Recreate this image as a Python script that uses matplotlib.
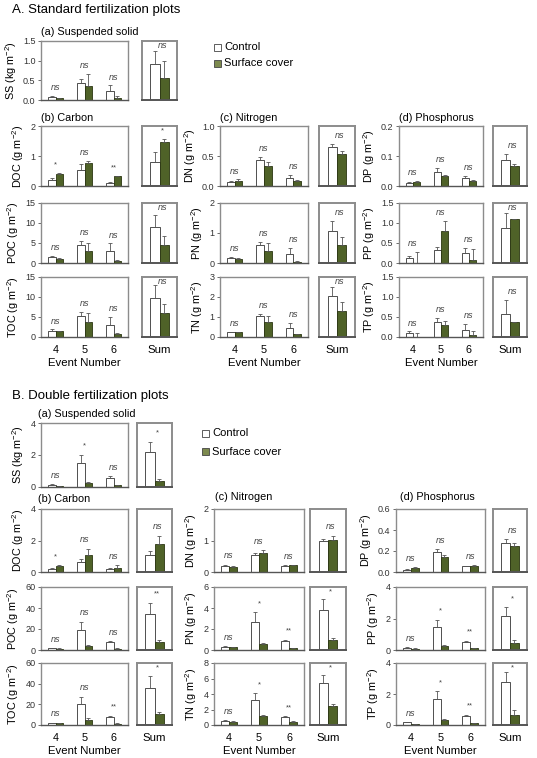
import numpy as np
import matplotlib.pyplot as plt
from matplotlib.patches import Rectangle

plt.rcParams['font.family'] = ['Liberation Sans', 'DejaVu Sans']
plt.rcParams['mathtext.default'] = 'regular'

W, H = 537, 758
events = [4, 5, 6]
event_labels = ['4', '5', '6']

# values read per panel: [event 4, event 5, event 6, Sum]
# ---- A. Standard fertilization plots ----
a_ss_ctl = [0.08, 0.42, 0.22, 0.92]
a_ss_ctl_se = [0.02, 0.12, 0.15, 0.33]
a_ss_cov = [0.04, 0.36, 0.04, 0.56]
a_ss_cov_se = [0.01, 0.30, 0.05, 0.43]
a_ss_sig = ['ns', 'ns', 'ns', 'ns']

a_doc_ctl = [0.20, 0.52, 0.11, 0.80]
a_doc_ctl_se = [0.06, 0.22, 0.02, 0.32]
a_doc_cov = [0.40, 0.77, 0.32, 1.47]
a_doc_cov_se = [0.02, 0.07, 0.02, 0.10]
a_doc_sig = ['*', 'ns', '**', '*']

a_poc_ctl = [1.4, 4.6, 2.9, 8.9]
a_poc_ctl_se = [0.3, 1.0, 2.0, 3.1]
a_poc_cov = [1.1, 3.0, 0.4, 4.6]
a_poc_cov_se = [0.1, 2.1, 0.4, 2.2]
a_poc_sig = ['ns', 'ns', 'ns', 'ns']

a_toc_ctl = [1.5, 5.2, 3.1, 9.7]
a_toc_ctl_se = [0.4, 1.1, 1.9, 3.3]
a_toc_cov = [1.4, 3.8, 0.8, 6.0]
a_toc_cov_se = [0.2, 2.2, 0.3, 2.3]
a_toc_sig = ['ns', 'ns', 'ns', 'ns']

a_dn_ctl = [0.07, 0.44, 0.13, 0.65]
a_dn_ctl_se = [0.01, 0.05, 0.05, 0.05]
a_dn_cov = [0.09, 0.34, 0.09, 0.53]
a_dn_cov_se = [0.02, 0.06, 0.01, 0.06]
a_dn_sig = ['ns', 'ns', 'ns', 'ns']

a_pn_ctl = [0.17, 0.60, 0.31, 1.07]
a_pn_ctl_se = [0.04, 0.11, 0.20, 0.33]
a_pn_cov = [0.15, 0.39, 0.05, 0.59]
a_pn_cov_se = [0.01, 0.27, 0.02, 0.29]
a_pn_sig = ['ns', 'ns', 'ns', 'ns']

a_tn_ctl = [0.24, 1.05, 0.44, 2.05]
a_tn_ctl_se = [0.03, 0.10, 0.26, 0.45]
a_tn_cov = [0.24, 0.73, 0.14, 1.30]
a_tn_cov_se = [0.01, 0.33, 0.03, 0.45]
a_tn_sig = ['ns', 'ns', 'ns', 'ns']

a_dp_ctl = [0.011, 0.048, 0.027, 0.087]
a_dp_ctl_se = [0.003, 0.012, 0.007, 0.020]
a_dp_cov = [0.015, 0.033, 0.018, 0.068]
a_dp_cov_se = [0.003, 0.004, 0.002, 0.006]
a_dp_sig = ['ns', 'ns', 'ns', 'ns']

a_pp_ctl = [0.13, 0.33, 0.24, 0.88]
a_pp_ctl_se = [0.04, 0.08, 0.14, 0.37]
a_pp_cov = [0.005, 0.80, 0.08, 1.11]
a_pp_cov_se = [0.26, 0.26, 0.27, 0.0]
a_pp_sig = ['ns', 'ns', 'ns', 'ns']

a_tp_ctl = [0.10, 0.38, 0.18, 0.57]
a_tp_ctl_se = [0.04, 0.09, 0.15, 0.35]
a_tp_cov = [0.005, 0.31, 0.05, 0.37]
a_tp_cov_se = [0.10, 0.09, 0.10, 0.0]
a_tp_sig = ['ns', 'ns', 'ns', 'ns']

# ---- B. Double fertilization plots ----
b_ss_ctl = [0.15, 1.52, 0.55, 2.20]
b_ss_ctl_se = [0.04, 0.50, 0.12, 0.60]
b_ss_cov = [0.07, 0.23, 0.10, 0.37]
b_ss_cov_se = [0.02, 0.08, 0.02, 0.12]
b_ss_sig = ['ns', '*', 'ns', '*']

b_doc_ctl = [0.20, 0.62, 0.19, 1.05]
b_doc_ctl_se = [0.04, 0.18, 0.07, 0.27]
b_doc_cov = [0.38, 1.10, 0.27, 1.80]
b_doc_cov_se = [0.05, 0.38, 0.16, 0.50]
b_doc_sig = ['*', 'ns', 'ns', 'ns']

b_poc_ctl = [1.7, 19.0, 7.5, 34.0]
b_poc_ctl_se = [0.3, 8.0, 1.0, 11.0]
b_poc_cov = [1.3, 4.0, 1.2, 8.0]
b_poc_cov_se = [0.3, 0.8, 0.5, 2.0]
b_poc_sig = ['ns', 'ns', 'ns', '**']

b_toc_ctl = [2.0, 20.0, 7.5, 36.0]
b_toc_ctl_se = [0.4, 7.5, 1.3, 11.0]
b_toc_cov = [1.6, 5.3, 1.4, 10.5]
b_toc_cov_se = [0.3, 1.0, 0.5, 2.5]
b_toc_sig = ['ns', 'ns', '**', '*']

b_dn_ctl = [0.19, 0.55, 0.20, 0.97]
b_dn_ctl_se = [0.04, 0.06, 0.01, 0.07]
b_dn_cov = [0.17, 0.59, 0.21, 1.01]
b_dn_cov_se = [0.03, 0.11, 0.01, 0.14]
b_dn_sig = ['ns', 'ns', 'ns', 'ns']

b_pn_ctl = [0.28, 2.62, 0.88, 3.80]
b_pn_ctl_se = [0.06, 0.97, 0.06, 1.10]
b_pn_cov = [0.25, 0.58, 0.17, 1.00]
b_pn_cov_se = [0.04, 0.07, 0.06, 0.16]
b_pn_sig = ['ns', '*', '**', '*']

b_tn_ctl = [0.50, 3.18, 1.07, 5.40]
b_tn_ctl_se = [0.10, 0.90, 0.07, 1.10]
b_tn_cov = [0.45, 1.18, 0.42, 2.40]
b_tn_cov_se = [0.05, 0.08, 0.06, 0.25]
b_tn_sig = ['ns', '*', '**', '*']

b_dp_ctl = [0.023, 0.190, 0.055, 0.280]
b_dp_ctl_se = [0.004, 0.025, 0.003, 0.035]
b_dp_cov = [0.040, 0.140, 0.057, 0.250]
b_dp_cov_se = [0.006, 0.020, 0.005, 0.030]
b_dp_sig = ['ns', 'ns', 'ns', 'ns']

b_pp_ctl = [0.14, 1.45, 0.52, 2.13]
b_pp_ctl_se = [0.03, 0.48, 0.08, 0.57]
b_pp_cov = [0.09, 0.28, 0.11, 0.47]
b_pp_cov_se = [0.01, 0.06, 0.02, 0.15]
b_pp_sig = ['ns', '*', '**', '*']

b_tp_ctl = [0.17, 1.67, 0.57, 2.78]
b_tp_ctl_se = [0.03, 0.50, 0.09, 0.65]
b_tp_cov = [0.06, 0.33, 0.13, 0.67]
b_tp_cov_se = [0.01, 0.08, 0.02, 0.27]
b_tp_sig = ['ns', '*', '**', '*']

GREEN = '#4f6228'
FRAME = '#8c8c8c'
bw = 0.26

fig = plt.figure(figsize=(W / 100, H / 100), dpi=100)


def rect(l, r, t, b):
    return [l / W, 1 - b / H, (r - l) / W, (b - t) / H]


def style(ax, lw):
    for s in ax.spines.values():
        s.set_color(FRAME)
        s.set_linewidth(lw)
    ax.spines['bottom'].set_color('#555555')


def annotate(ax, x, top, sig, ymax):
    y = min(top + 0.14 * ymax, 0.92 * ymax)
    if sig == 'ns':
        ax.text(x, y, 'ns', ha='center', va='center', fontsize=6.5,
                style='italic', color='#444444')
    else:
        ax.text(x, y, sig, ha='center', va='center', fontsize=5.5, color='#444444')


def panel(cols, rows, ctl, ctl_se, cov, cov_se, sig, ticks, ylabel, bottom=False):
    ev_l, ev_r, sm_l, sm_r = cols
    t, b = rows
    yt = [float(v) for v in ticks]
    ymax = yt[-1]
    ekw = dict(elinewidth=0.6, capsize=1.5, capthick=0.6, ecolor='#555555')

    ax = fig.add_axes(rect(ev_l, ev_r, t, b))
    x = np.array(events, dtype=float)
    ax.bar(x - bw / 2, ctl[:3], bw, color='white', edgecolor='#333333', linewidth=0.6,
           yerr=[[0, 0, 0], ctl_se[:3]], error_kw=ekw, zorder=2)
    ax.bar(x + bw / 2, cov[:3], bw, color=GREEN, edgecolor='#2a3510', linewidth=0.6,
           yerr=[[0, 0, 0], cov_se[:3]], error_kw=ekw, zorder=2)
    for i in range(3):
        top = max(ctl[i] + ctl_se[i], cov[i] + cov_se[i])
        annotate(ax, x[i], top, sig[i], ymax)
    ax.set_xlim(3.5, 6.5)
    ax.set_ylim(0, ymax)
    ax.set_yticks(yt)
    ax.set_yticklabels(ticks)
    ax.tick_params(axis='y', labelsize=6.5, length=2, width=0.5, pad=2, colors='#333333')
    ax.set_ylabel(ylabel, fontsize=7.8, labelpad=3)
    style(ax, 1.0)
    if bottom:
        ax.set_xticks(events)
        ax.set_xticklabels(event_labels, fontsize=7.8)
        ax.tick_params(axis='x', length=0, pad=6)
        ax.set_xlabel('Event Number', fontsize=8.2, labelpad=2)
    else:
        ax.set_xticks([])

    sx = fig.add_axes(rect(sm_l, sm_r, t, b))
    sx.bar([-bw / 2], ctl[3:], bw, color='white', edgecolor='#333333', linewidth=0.6,
           yerr=[[0], ctl_se[3:]], error_kw=ekw, zorder=2)
    sx.bar([bw / 2], cov[3:], bw, color=GREEN, edgecolor='#2a3510', linewidth=0.6,
           yerr=[[0], cov_se[3:]], error_kw=ekw, zorder=2)
    top = max(ctl[3] + ctl_se[3], cov[3] + cov_se[3])
    annotate(sx, 0.08, top, sig[3], ymax)
    sx.set_xlim(-0.5, 0.5)
    sx.set_ylim(0, ymax)
    sx.set_yticks([])
    style(sx, 1.4)
    if bottom:
        sx.set_xticks([0])
        sx.set_xticklabels(['Sum'], fontsize=8.2)
        sx.tick_params(axis='x', length=0, pad=6)
    else:
        sx.set_xticks([])


def legend(x, y1, y2):
    s = 7
    fig.add_artist(Rectangle(((x - s / 2) / W, 1 - (y1 + s / 2) / H), s / W, s / H,
                             transform=fig.transFigure, facecolor='white',
                             edgecolor='#444444', linewidth=0.6))
    fig.add_artist(Rectangle(((x - s / 2) / W, 1 - (y2 + s / 2) / H), s / W, s / H,
                             transform=fig.transFigure, facecolor='#7d8a4e',
                             edgecolor='#444444', linewidth=0.6))
    fig.text((x + 7) / W, 1 - y1 / H, 'Control', fontsize=8, va='center')
    fig.text((x + 7) / W, 1 - y2 / H, 'Surface cover', fontsize=8, va='center')


def label(x, y, s, size=7.8):
    fig.text(x / W, 1 - y / H, s, fontsize=size, va='center', ha='left')


# ---------------- Section A ----------------
label(12, 10, 'A. Standard fertilization plots', 9.5)
label(41, 32, '(a) Suspended solid')
label(41, 118, '(b) Carbon')
label(220, 118, '(c) Nitrogen')
label(399, 118, '(d) Phosphorus')
legend(217, 47, 63)

a_c = (41, 128, 142, 177)
a_n = (220, 308, 319, 355)
a_p = (399, 483, 493, 527)
a_rows = [(41, 100), (126, 186), (203, 263), (277, 337)]

panel(a_c, a_rows[0], a_ss_ctl, a_ss_ctl_se, a_ss_cov, a_ss_cov_se, a_ss_sig,
      ['0.0', '0.5', '1.0', '1.5'], 'SS (kg m$^{-2}$)')
panel(a_c, a_rows[1], a_doc_ctl, a_doc_ctl_se, a_doc_cov, a_doc_cov_se, a_doc_sig,
      ['0', '1', '2'], 'DOC (g m$^{-2}$)')
panel(a_c, a_rows[2], a_poc_ctl, a_poc_ctl_se, a_poc_cov, a_poc_cov_se, a_poc_sig,
      ['0', '5', '10', '15'], 'POC (g m$^{-2}$)')
panel(a_c, a_rows[3], a_toc_ctl, a_toc_ctl_se, a_toc_cov, a_toc_cov_se, a_toc_sig,
      ['0', '5', '10', '15'], 'TOC (g m$^{-2}$)', bottom=True)
panel(a_n, a_rows[1], a_dn_ctl, a_dn_ctl_se, a_dn_cov, a_dn_cov_se, a_dn_sig,
      ['0.0', '0.5', '1.0'], 'DN (g m$^{-2}$)')
panel(a_n, a_rows[2], a_pn_ctl, a_pn_ctl_se, a_pn_cov, a_pn_cov_se, a_pn_sig,
      ['0', '1', '2'], 'PN (g m$^{-2}$)')
panel(a_n, a_rows[3], a_tn_ctl, a_tn_ctl_se, a_tn_cov, a_tn_cov_se, a_tn_sig,
      ['0', '1', '2', '3'], 'TN (g m$^{-2}$)', bottom=True)
panel(a_p, a_rows[1], a_dp_ctl, a_dp_ctl_se, a_dp_cov, a_dp_cov_se, a_dp_sig,
      ['0.0', '0.1', '0.2'], 'DP (g m$^{-2}$)')
panel(a_p, a_rows[2], a_pp_ctl, a_pp_ctl_se, a_pp_cov, a_pp_cov_se, a_pp_sig,
      ['0.0', '0.5', '1.0', '1.5'], 'PP (g m$^{-2}$)')
panel(a_p, a_rows[3], a_tp_ctl, a_tp_ctl_se, a_tp_cov, a_tp_cov_se, a_tp_sig,
      ['0.0', '0.5', '1.0', '1.5'], 'TP (g m$^{-2}$)', bottom=True)

# ---------------- Section B ----------------
label(12, 396, 'B. Double fertilization plots', 9.5)
label(38, 414, '(a) Suspended solid')
label(38, 499, '(b) Carbon')
label(215, 497, '(c) Nitrogen')
label(400, 497, '(d) Phosphorus')
legend(205, 433, 452)

b_c = (41, 128, 137, 172)
b_n = (214, 304, 310, 346)
b_p = (396, 485, 493, 527)
b_rows = [(423, 487), (509, 572), (587, 650), (663, 725)]

panel(b_c, b_rows[0], b_ss_ctl, b_ss_ctl_se, b_ss_cov, b_ss_cov_se, b_ss_sig,
      ['0', '2', '4'], 'SS (kg m$^{-2}$)')
panel(b_c, b_rows[1], b_doc_ctl, b_doc_ctl_se, b_doc_cov, b_doc_cov_se, b_doc_sig,
      ['0', '2', '4'], 'DOC (g m$^{-2}$)')
panel(b_c, b_rows[2], b_poc_ctl, b_poc_ctl_se, b_poc_cov, b_poc_cov_se, b_poc_sig,
      ['0', '20', '40', '60'], 'POC (g m$^{-2}$)')
panel(b_c, b_rows[3], b_toc_ctl, b_toc_ctl_se, b_toc_cov, b_toc_cov_se, b_toc_sig,
      ['0', '20', '40', '60'], 'TOC (g m$^{-2}$)', bottom=True)
panel(b_n, b_rows[1], b_dn_ctl, b_dn_ctl_se, b_dn_cov, b_dn_cov_se, b_dn_sig,
      ['0', '1', '2'], 'DN (g m$^{-2}$)')
panel(b_n, b_rows[2], b_pn_ctl, b_pn_ctl_se, b_pn_cov, b_pn_cov_se, b_pn_sig,
      ['0', '2', '4', '6'], 'PN (g m$^{-2}$)')
panel(b_n, b_rows[3], b_tn_ctl, b_tn_ctl_se, b_tn_cov, b_tn_cov_se, b_tn_sig,
      ['0', '2', '4', '6', '8'], 'TN (g m$^{-2}$)', bottom=True)
panel(b_p, b_rows[1], b_dp_ctl, b_dp_ctl_se, b_dp_cov, b_dp_cov_se, b_dp_sig,
      ['0.0', '0.2', '0.4', '0.6'], 'DP (g m$^{-2}$)')
panel(b_p, b_rows[2], b_pp_ctl, b_pp_ctl_se, b_pp_cov, b_pp_cov_se, b_pp_sig,
      ['0', '2', '4'], 'PP (g m$^{-2}$)')
panel(b_p, b_rows[3], b_tp_ctl, b_tp_ctl_se, b_tp_cov, b_tp_cov_se, b_tp_sig,
      ['0', '2', '4'], 'TP (g m$^{-2}$)', bottom=True)

fig.savefig('out.png', dpi=100)
